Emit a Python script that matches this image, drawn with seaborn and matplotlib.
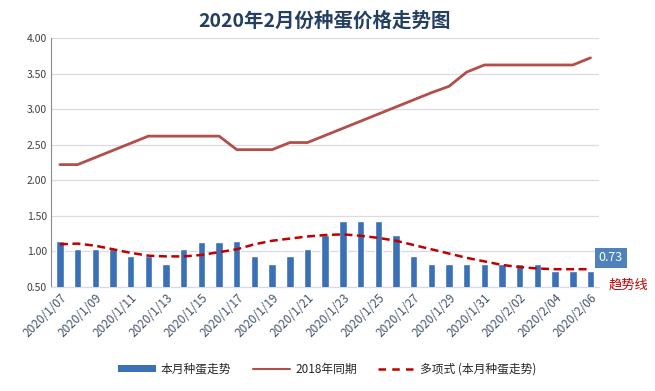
import numpy as np
import pandas as pd
import matplotlib
matplotlib.use("Agg")
import matplotlib.pyplot as plt
import seaborn as sns
from matplotlib.patches import Patch
from matplotlib.lines import Line2D

# ========== DATA ==========
dates = ["2020/1/07", "2020/1/08", "2020/1/09", "2020/1/10", "2020/1/11", "2020/1/12",
         "2020/1/13", "2020/1/14", "2020/1/15", "2020/1/16", "2020/1/17", "2020/1/18",
         "2020/1/19", "2020/1/20", "2020/1/21", "2020/1/22", "2020/1/23", "2020/1/24",
         "2020/1/25", "2020/1/26", "2020/1/27", "2020/1/28", "2020/1/29", "2020/1/30",
         "2020/1/31", "2020/2/01", "2020/2/02", "2020/2/03", "2020/2/04", "2020/2/05",
         "2020/2/06"]

this_month = [1.14, 1.03, 1.03, 1.03, 0.93, 0.93, 0.83, 1.03, 1.13, 1.13, 1.14,
              0.93, 0.83, 0.93, 1.03, 1.23, 1.43, 1.43, 1.43, 1.23, 0.93, 0.83,
              0.83, 0.83, 0.83, 0.83, 0.83, 0.83, 0.73, 0.73, 0.73]

same_2018 = [2.22, 2.22, 2.32, 2.42, 2.52, 2.62, 2.62, 2.62, 2.62, 2.62, 2.43,
             2.43, 2.43, 2.53, 2.53, 2.63, 2.73, 2.83, 2.93, 3.03, 3.13, 3.23,
             3.32, 3.52, 3.62, 3.62, 3.62, 3.62, 3.62, 3.62, 3.72]

# polynomial trendline
trend = [1.10, 1.11, 1.08, 1.03, 0.98, 0.94, 0.93, 0.93, 0.95, 0.99, 1.03,
         1.10, 1.15, 1.18, 1.21, 1.23, 1.24, 1.22, 1.19, 1.15, 1.09, 1.03,
         0.97, 0.91, 0.86, 0.81, 0.78, 0.76, 0.75, 0.75, 0.75]

yticks = [0.5, 1.0, 1.5, 2.0, 2.5, 3.0, 3.5, 4.0]

df = pd.DataFrame({"date": dates, "pos": np.arange(len(dates)),
                   "this_month": this_month, "same_2018": same_2018, "trend": trend})

# ========== STYLE ==========
sns.set_style("white")
plt.rcParams["font.family"] = ["Noto Sans CJK SC", "DejaVu Sans"]

bar_color = "#3a70b5"
line_color = "#b24f48"
trend_color = "#c00000"

fig = plt.figure(figsize=(6.55, 3.91), dpi=100)
ax = fig.add_axes([0.078, 0.266, 0.837, 0.637])

# ========== PLOT ==========
sns.barplot(data=df, x="pos", y="this_month", color=bar_color, width=0.42,
            saturation=1, ax=ax, zorder=3)
sns.lineplot(data=df, x="pos", y="same_2018", color=line_color, linewidth=2,
             ax=ax, zorder=4)
sns.lineplot(data=df, x="pos", y="trend", color=trend_color, linewidth=1.8,
             linestyle=(0, (3.2, 1.8)), ax=ax, zorder=5)

ax.set_xlim(-0.5, len(dates) - 0.5)
ax.set_ylim(0.5, 4.0)
ax.set_yticks(yticks)
ax.set_yticklabels([f"{v:.2f}" for v in yticks], fontsize=7.5, color="#404040")
ax.set_xticks(df["pos"][::2])
ax.set_xticklabels(df["date"][::2], rotation=45, ha="right", rotation_mode="anchor",
                   fontsize=8.5, color="#44546a")
ax.tick_params(axis="both", length=0, pad=3)
ax.set_xlabel("")
ax.set_ylabel("")
ax.grid(axis="y", color="#d9dbe6", linewidth=0.9, zorder=0)
ax.set_axisbelow(True)
for s in ["top", "right"]:
    ax.spines[s].set_visible(False)
ax.spines["left"].set_color("#8c8c8c")
ax.spines["left"].set_linewidth(0.8)
ax.spines["bottom"].set_color("#d9dbe6")
ax.spines["bottom"].set_linewidth(0.9)

fig.text(0.496, 0.945, "2020年2月份种蛋价格走势图", ha="center", va="center",
         fontsize=14, fontweight="bold", color="#243f60")

# label on last bar and trend note
ax.text(len(dates) - 1 + 1.15, 0.91, "0.73", ha="center", va="center", fontsize=9,
        color="white", clip_on=False,
        bbox=dict(boxstyle="square,pad=0.3", facecolor="#4f81bd", edgecolor="none"))
ax.text(len(dates) - 1 + 2.15, 0.52, "趋势线", ha="center", va="center", fontsize=9.5,
        color=trend_color, clip_on=False)

handles = [Patch(facecolor=bar_color, edgecolor="none"),
           Line2D([], [], color=line_color, linewidth=1.5),
           Line2D([], [], color=trend_color, linewidth=1.8, linestyle=(0, (3, 2.5)))]
labels = ["本月种蛋走势", "2018年同期", "多项式 (本月种蛋走势)"]
fig.legend(handles, labels, loc="center", bbox_to_anchor=(0.5, 0.055), ncol=3,
           frameon=False, fontsize=8.5, handlelength=3.2, handleheight=0.5,
           columnspacing=1.8, handletextpad=0.4, labelcolor="#262626")

fig.savefig("out.png", dpi=100)
